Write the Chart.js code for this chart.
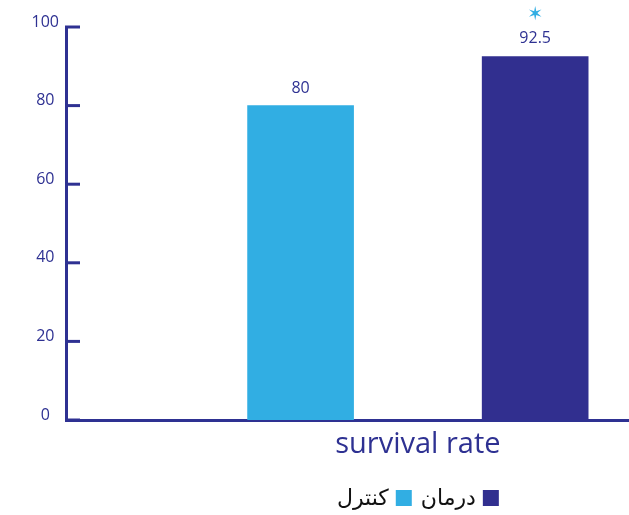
<!DOCTYPE html>
<html>
<head>
<meta charset="utf-8">
<script src="https://cdn.jsdelivr.net/npm/chart.js@4"></script>
<style>
  html, body { margin: 0; padding: 0; background: #ffffff; }
  #wrap { width: 629px; height: 515px; }
</style>
</head>
<body>
<div id="wrap"><canvas id="rateChart"></canvas></div>
<script>
// chart values
const categories = ['survival rate'];
const seriesNames = ['کنترل', 'درمان'];
const controlValues = [80];
const treatmentValues = [92.5];
const valueLabels = ['80', '92.5'];
const significance = ['', '✶'];
const yTicks = [0, 20, 40, 60, 80, 100];

const navy = '#2E3192';
const lightBlue = '#31AEE3';
const darkBlue = '#312F8F';
const fontFamily = '"Open Sans", "DejaVu Sans", sans-serif';

// bars sit at x = 1 and x = 2 on a linear scale, category label between them
const barX = [1, 2];

// short ticks drawn inside the y axis, value labels, star and the rtl legend
const extrasPlugin = {
    id: 'extras',
    afterDraw(chart) {
        const c = chart.ctx;
        const y = chart.scales.y;
        const x = chart.scales.x;
        c.save();
        c.strokeStyle = navy;
        c.lineWidth = 3;
        yTicks.forEach(v => {
            const py = y.getPixelForValue(v);
            c.beginPath();
            c.moveTo(y.right - 1, py);
            c.lineTo(y.right + 14, py);
            c.stroke();
        });

        // values above bars
        c.font = '16px ' + fontFamily;
        c.textAlign = 'center';
        c.textBaseline = 'alphabetic';
        chart.data.datasets.forEach((ds, i) => {
            const bar = chart.getDatasetMeta(i).data[0];
            c.fillStyle = navy;
            c.fillText(valueLabels[i], bar.x, bar.y - 13);
            if (significance[i]) {
                c.fillStyle = lightBlue;
                c.font = '19px "DejaVu Sans", sans-serif';
                c.fillText(significance[i], bar.x, bar.y - 36);
                c.font = '16px ' + fontFamily;
            }
        });

        // legend, right to left
        c.font = '22px "DejaVu Sans", sans-serif';
        c.textBaseline = 'middle';
        c.textAlign = 'right';
        const items = [1, 0];
        const box = 16, gap = 7, itemGap = 9;
        let total = 0;
        items.forEach((i, k) => {
            total += box + gap + c.measureText(seriesNames[i]).width;
            if (k < items.length - 1) total += itemGap;
        });
        const center = x.getPixelForValue(1.5);
        let px = center + total / 2;
        const ly = 498;
        items.forEach(i => {
            const ds = chart.data.datasets[i];
            c.fillStyle = ds.backgroundColor;
            c.fillRect(px - box, ly - box / 2, box, box);
            c.fillStyle = '#111111';
            c.fillText(seriesNames[i], px - box - gap, ly + 1);
            px -= box + gap + c.measureText(seriesNames[i]).width + itemGap;
        });
        c.restore();
    }
};

const ctx = document.getElementById('rateChart').getContext('2d');
new Chart(ctx, {
    type: 'bar',
    data: {
        datasets: [{
            label: seriesNames[0],
            data: [{ x: barX[0], y: controlValues[0] }],
            backgroundColor: lightBlue
        }, {
            label: seriesNames[1],
            data: [{ x: barX[1], y: treatmentValues[0] }],
            backgroundColor: darkBlue
        }]
    },
    options: {
        responsive: true,
        maintainAspectRatio: false,
        animation: false,
        layout: { padding: { top: 27, right: 0, left: 0, bottom: 0 } },
        datasets: { bar: { grouped: false, barThickness: 106 } },
        plugins: {
            legend: { display: false },
            tooltip: { enabled: false }
        },
        scales: {
            x: {
                type: 'linear',
                offset: false,
                min: 0,
                max: 2.4,
                grid: { display: false, drawTicks: false },
                border: { color: navy, width: 3 },
                afterBuildTicks: scale => { scale.ticks = [{ value: 1.5 }]; },
                afterFit: scale => { scale.height = 95; },
                ticks: {
                    padding: 7,
                    color: navy,
                    font: { size: 29, family: fontFamily },
                    callback: () => categories[0]
                }
            },
            y: {
                min: 0,
                max: 100,
                grid: { display: false, drawTicks: false },
                border: { color: navy, width: 3 },
                afterFit: scale => { scale.width = 66; },
                ticks: {
                    stepSize: 20,
                    padding: 7,
                    crossAlign: 'center',
                    labelOffset: -5,
                    color: navy,
                    font: { size: 16, family: fontFamily }
                }
            }
        }
    },
    plugins: [extrasPlugin]
});
</script>
</body>
</html>
